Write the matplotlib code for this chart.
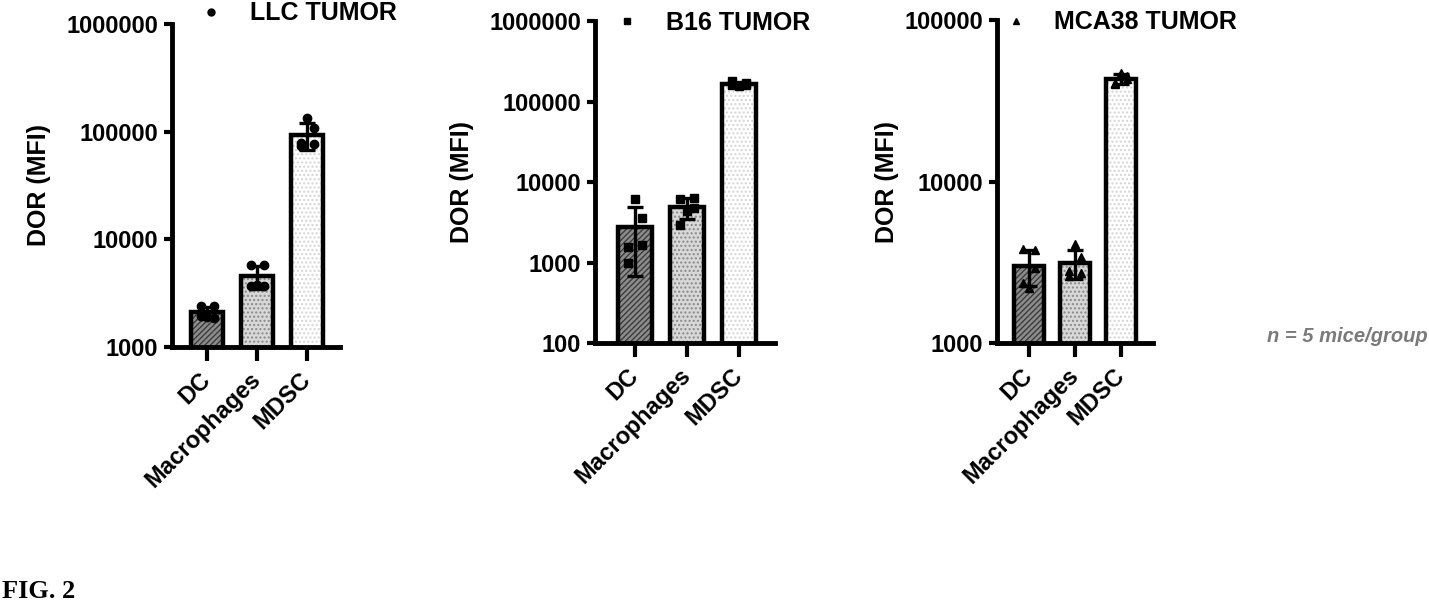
import numpy as np
import matplotlib
matplotlib.use("Agg")
import matplotlib.pyplot as plt
from matplotlib.lines import Line2D
from matplotlib.ticker import FixedLocator, FuncFormatter, NullLocator

plt.rcParams['font.family'] = ['Liberation Sans', 'DejaVu Sans']
plt.rcParams['font.weight'] = 'bold'
plt.rcParams['hatch.linewidth'] = 1.0

# --- data ---
groups = ['DC', 'Macrophages', 'MDSC']

llc_dc = [2400, 2400, 1900, 1950, 1850]
llc_mac = [5750, 5750, 3800, 3700, 3700]
llc_mdsc = [78000, 76000, 134000, 73000, 109000]

b16_dc = [1550, 1650, 6100, 1000, 3550]
b16_mac = [6100, 6300, 4400, 2900, 4800]
b16_mdsc = [160000, 170000, 155000, 180000, 160000]

mca_dc = [3800, 3750, 2200, 2350, 2900]
mca_mac = [2800, 2700, 4100, 2600, 3400]
mca_mdsc = [41000, 45000, 47000, 40000, 43000]

titles = ['LLC TUMOR', 'B16 TUMOR', 'MCA38 TUMOR']
markers = ['o', 's', '^']
yticks_llc = [1000, 10000, 100000, 1000000]
yticks_b16 = [100, 1000, 10000, 100000, 1000000]
yticks_mca = [1000, 10000, 100000]

# --- styling ---
jitter = [-0.13, 0.13, 0.0, -0.13, 0.13]
fills = [('#8c8c8c', '#3c3c3c', '//////'),
         ('#d8d8d8', '#8a8a8a', '....'),
         ('#ffffff', '#d4d4d4', '....')]

fig = plt.figure(figsize=(14.29, 6.04), dpi=100)

panels = [
    dict(data=[llc_dc, llc_mac, llc_mdsc], ticks=yticks_llc,
         rect=[0.1204, 0.4255, 0.1176, 0.5348], xlim=(-0.7, 2.66),
         ylab_x=-0.72, leg=(0.139, 0.978)),
    dict(data=[b16_dc, b16_mac, b16_mdsc], ticks=yticks_b16,
         rect=[0.4164, 0.4321, 0.1260, 0.5331], xlim=(-0.77, 2.69),
         ylab_x=-0.672, leg=(0.430, 0.962)),
    dict(data=[mca_dc, mca_mac, mca_mdsc], ticks=yticks_mca,
         rect=[0.6977, 0.4321, 0.1092, 0.5348], xlim=(-0.7, 2.7),
         ylab_x=-0.628, leg=(0.702, 0.963)),
]

for i, p in enumerate(panels):
    ax = fig.add_axes(p['rect'])
    x = np.arange(len(groups))
    means = [np.mean(v) for v in p['data']]
    sds = [np.std(v, ddof=1) for v in p['data']]

    for j in range(len(groups)):
        fc, hc, hatch = fills[j]
        ax.bar(x[j], means[j], width=0.65, color=fc, edgecolor=hc,
               hatch=hatch, linewidth=0, zorder=1)
        ax.bar(x[j], means[j], width=0.65, color='none', edgecolor='black',
               linewidth=3.2, zorder=2)
    ax.errorbar(x, means, yerr=sds, fmt='none', ecolor='black',
                elinewidth=2.4, capsize=5.5, capthick=2.4, zorder=3)
    for j in range(len(groups)):
        ax.plot(x[j] + np.array(jitter), p['data'][j], ls='none',
                marker=markers[i], color='black', markersize=6, zorder=4)

    ax.set_yscale('log')
    ax.set_ylim(p['ticks'][0], p['ticks'][-1])
    ax.set_xlim(*p['xlim'])
    ax.yaxis.set_major_locator(FixedLocator(p['ticks']))
    ax.yaxis.set_minor_locator(NullLocator())
    ax.yaxis.set_major_formatter(FuncFormatter(lambda v, pos: f'{int(round(v))}'))
    ax.set_xticks(x)
    ax.set_xticklabels(groups, rotation=45, ha='right', va='center',
                       rotation_mode='anchor', fontsize=17, fontweight='bold')
    ax.tick_params(axis='y', labelsize=17, width=3, length=6, pad=4)
    ax.tick_params(axis='x', width=3, length=10, pad=11)
    for s in ['top', 'right']:
        ax.spines[s].set_visible(False)
    for s in ['left', 'bottom']:
        ax.spines[s].set_linewidth(3.5)
    ax.set_ylabel('DOR (MFI)', fontsize=18, fontweight='bold')
    ax.yaxis.set_label_coords(p['ylab_x'], 0.5)

    h = Line2D([], [], ls='none', marker=markers[i], color='black', markersize=5)
    fig.legend(handles=[h], labels=[titles[i]], loc='center left',
               bbox_to_anchor=p['leg'], frameon=False, handlelength=1.0,
               handletextpad=1.05, borderpad=0, borderaxespad=0,
               prop=dict(size=18, weight='bold'))

fig.text(1267 / 1429, 1 - 337 / 604, 'n = 5 mice/group', color='#7a7a7a',
         fontsize=14.5, fontweight='bold', style='italic', ha='left', va='center')
fig.text(2 / 1429, 1 - 591 / 604, 'FIG. 2', family='Liberation Serif',
         fontsize=19, fontweight='bold', ha='left', va='center')

fig.savefig('out.png', dpi=100)
